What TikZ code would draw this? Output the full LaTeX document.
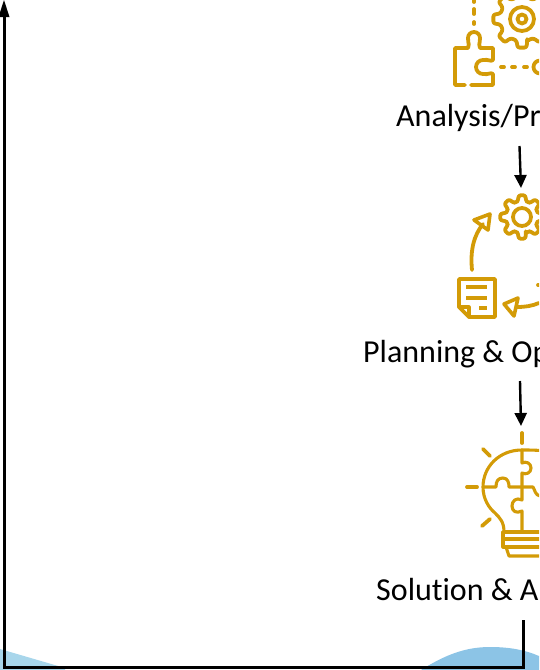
\documentclass[tikz,border=0pt]{standalone}
\usepackage{fontspec}
\setmainfont{Carlito}[Ligatures=NoCommon]
\usetikzlibrary{arrows.meta}
\definecolor{gold}{HTML}{D39B07}
\definecolor{hillA}{HTML}{A8D6EB}
\definecolor{hillB}{HTML}{8CC4E6}
\tikzset{
  icon/.style={draw=gold,line width=3.8pt,line join=round,line cap=round,fill=none},
  thinicon/.style={icon,line width=3.1pt},
  goldtri/.style={draw=gold,line width=3.6pt,line join=round,fill=none},
  label/.style={anchor=base west,inner sep=0pt,font=\fontsize{32}{34}\selectfont,text=black},
  flow/.style={draw=black,line width=2.4pt,-{Triangle[length=13pt,width=12pt]}},
  axis/.style={draw=black,line width=3pt,line join=miter}
}
\newcommand{\gearshape}[3]{% centre, outer radius, body radius
  \begin{scope}[shift={(#1)}]
  \draw[icon,rounded corners=2.2pt] (90-13:#3)
    \foreach \a in {90,135,...,405}{
      -- (\a-13:#3) -- (\a-9:#2) -- (\a+9:#2) -- (\a+13:#3)
      -- (\a+22.5:#3-1.5)
    } -- cycle;
  \end{scope}}
\begin{document}
\begin{tikzpicture}[x=1pt,y=-1pt]
\useasboundingbox (0,0) rectangle (539,670);
\clip (0,0) rectangle (539,670);
% hills
\fill[hillA] (0,649) -- (65,668) -- (65,670) -- (0,670) -- cycle;
\fill[hillB] (421,670) .. controls (445,655) and (465,647) .. (490,647)
  .. controls (510,647) and (525,650) .. (539,656) -- (539,670) -- cycle;
% top icon
\gearshape{522,19}{29}{23}
\draw[icon] (522,19) circle (12);
\draw[icon] (522,19) circle (4.5);
\draw[icon] (465,85) -- (455,85) -- (455,48) -- (468,48)
  .. controls (470,46) and (468,44) .. (468,38) arc[start angle=180,delta angle=180,radius=6]
  .. controls (480,44) and (478,46) .. (480,48) -- (493,48) -- (493,60)
  .. controls (491,62) and (488,59) .. (483,60) arc[start angle=270,delta angle=-180,radius=7]
  .. controls (488,75) and (491,72) .. (493,74) -- (493,85) -- (471,85);
\draw[icon] (474,0) -- (474,2);
\draw[icon] (474,9) -- (474,14);
\draw[icon] (474,22) -- (474,24);
\draw[icon] (501,67) -- (504,67);
\draw[icon] (512,67) -- (515,67);
\draw[icon] (524,67) -- (527,67);
\draw[icon] (540,60.5) arc[start angle=270,delta angle=-180,radius=6.5];
\node[label] (analysis) at (396,126) {Analysis/Pr};
% second icon
\gearshape{522,217}{22}{17}
\draw[icon] (522,217) circle (9);
\draw[icon] (472,270) .. controls (470,250) and (474,235) .. (483,224);
\draw[goldtri] (490,214) -- (474,220) -- (488,230) -- cycle;
\draw[icon] (469,317) -- (459,307) -- (459,279) -- (495,279) -- (495,317) -- cycle;
\draw[thinicon] (459,307) -- (469,307) -- (469,317);
\draw[thinicon,line cap=butt] (466,287) -- (487,287);
\draw[thinicon,line cap=butt] (466,298) -- (487,298);
\draw[thinicon,line cap=butt] (479,308) -- (487,308);
\draw[goldtri] (504,304) -- (518,298) -- (514,316) -- cycle;
\draw[icon] (517,307) .. controls (525,307) and (532,306) .. (539,303);
\draw[icon] (538,285) -- (539,285);
\node[label] (planning) at (363,362) {Planning \& Op};
% bulb
\draw[icon] (522,433) -- (522,443);
\draw[icon] (483,449) -- (490,456);
\draw[icon] (467,487) -- (477,487);
\draw[icon] (482,526) -- (490,519);
\draw[thinicon] (545,451) .. controls (537,450) and (530,450) .. (522,450)
  .. controls (499,450) and (483,467) .. (483,487)
  .. controls (483,499) and (489,508) .. (495,513)
  .. controls (500,518) and (504,522) .. (504,532);
\draw[thinicon] (522,450) -- (522,463) .. controls (526,461) and (531,463) .. (531,468)
  .. controls (531,473) and (526,475) .. (522,473) -- (522,487);
\draw[thinicon] (484,487) -- (496,487) .. controls (496,481) and (498,478) .. (503,478)
  .. controls (508,478) and (509,483) .. (509,487) -- (533,487)
  .. controls (535,490) and (535,495) .. (540,496);
\draw[thinicon] (522,487) -- (522,500) .. controls (516,497) and (512,501) .. (512,506)
  .. controls (512,511) and (516,514) .. (522,511) -- (522,532);
\draw[thinicon] (504,532) -- (545,532);
\draw[thinicon] (503,532) -- (503,547) -- (545,547);
\draw[thinicon] (503,539) -- (545,539);
\draw[thinicon] (506,547) -- (509,556) -- (545,556);
\node[label] (solution) at (376,600) {Solution \& A};
% flow arrows
\coordinate (a1) at (519.5,146);
\coordinate (a2) at (521,188);
\coordinate (b1) at (520,381);
\coordinate (b2) at (521,426);
\draw[flow] (a1) -- (a2);
\draw[flow] (b1) -- (b2);
% axis
\coordinate (axisR) at (523.5,620);
\coordinate (axisC) at (523.5,667.5);
\coordinate (axisO) at (4,667.5);
\coordinate (axisT) at (4,10);
\draw[axis] (axisR) -- (axisC) -- (axisO) -- (axisT);
\draw[draw=none,fill=black] (4,0) -- (9.5,17) -- (-1.5,17) -- cycle;
\end{tikzpicture}
\end{document}
